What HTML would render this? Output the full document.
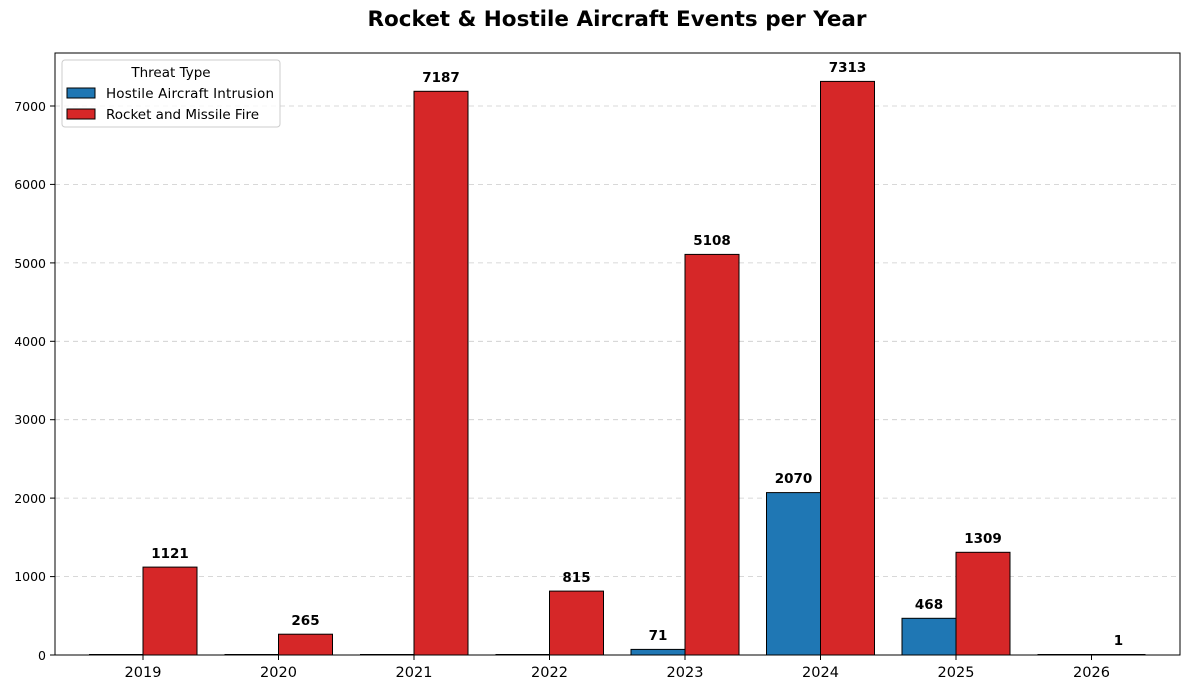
<!DOCTYPE html>
<html><head><meta charset="utf-8"><style>
html,body{margin:0;padding:0;background:#fff;}
svg{display:block;font-family:"DejaVu Sans","Liberation Sans",sans-serif;}
</style></head><body>
<svg width="1189" height="689" viewBox="0 0 1189 689" xmlns="http://www.w3.org/2000/svg">
<rect width="1189" height="689" fill="#fff"/>
<text x="617" y="26" text-anchor="middle" font-size="21.5" font-weight="bold">Rocket &amp; Hostile Aircraft Events per Year</text>
<g stroke="#ccc" stroke-dasharray="5,4" stroke-width="0.8">
<line x1="55" x2="1180" y1="576.6" y2="576.6"/>
<line x1="55" x2="1180" y1="498.1" y2="498.1"/>
<line x1="55" x2="1180" y1="419.7" y2="419.7"/>
<line x1="55" x2="1180" y1="341.3" y2="341.3"/>
<line x1="55" x2="1180" y1="262.9" y2="262.9"/>
<line x1="55" x2="1180" y1="184.4" y2="184.4"/>
<line x1="55" x2="1180" y1="106" y2="106"/>
</g>
<g stroke="#000" stroke-width="1">
<line x1="89" x2="143" y1="654.5" y2="654.5"/>
<line x1="224.5" x2="278.5" y1="654.5" y2="654.5"/>
<line x1="360" x2="414" y1="654.5" y2="654.5"/>
<line x1="495.5" x2="549.5" y1="654.5" y2="654.5"/>
<line x1="1037.5" x2="1145.5" y1="654.5" y2="654.5"/>
<rect x="631" y="649.4" width="54" height="5.6" fill="#1f77b4"/>
<rect x="766.5" y="492.6" width="54" height="162.4" fill="#1f77b4"/>
<rect x="902" y="618.3" width="54" height="36.7" fill="#1f77b4"/>
<rect x="143" y="567.1" width="54" height="87.9" fill="#d62728"/>
<rect x="278.5" y="634.2" width="54" height="20.8" fill="#d62728"/>
<rect x="414" y="91.3" width="54" height="563.7" fill="#d62728"/>
<rect x="549.5" y="591.1" width="54" height="63.9" fill="#d62728"/>
<rect x="685" y="254.4" width="54" height="400.6" fill="#d62728"/>
<rect x="820.5" y="81.4" width="54" height="573.6" fill="#d62728"/>
<rect x="956" y="552.3" width="54" height="102.7" fill="#d62728"/>
</g>
<g font-size="13.5" font-weight="bold" text-anchor="middle">
<text x="170" y="558">1121</text>
<text x="305.5" y="625">265</text>
<text x="441" y="82">7187</text>
<text x="576.5" y="582">815</text>
<text x="658" y="640">71</text>
<text x="712" y="245">5108</text>
<text x="793.5" y="483">2070</text>
<text x="847.5" y="72">7313</text>
<text x="929" y="609">468</text>
<text x="983" y="543">1309</text>
<text x="1118.5" y="645">1</text>
</g>
<rect x="55" y="53" width="1125" height="602" fill="none" stroke="#000" stroke-width="1"/>
<g font-size="12.5" text-anchor="end">
<text x="46" y="660">0</text>
<text x="46" y="581">1000</text>
<text x="46" y="503">2000</text>
<text x="46" y="424">3000</text>
<text x="46" y="346">4000</text>
<text x="46" y="268">5000</text>
<text x="46" y="189">6000</text>
<text x="46" y="111">7000</text>
</g>
<g stroke="#000"><line x1="50" x2="55" y1="655" y2="655"/><line x1="50" x2="55" y1="576.6" y2="576.6"/><line x1="50" x2="55" y1="498.1" y2="498.1"/><line x1="50" x2="55" y1="419.7" y2="419.7"/><line x1="50" x2="55" y1="341.3" y2="341.3"/><line x1="50" x2="55" y1="262.9" y2="262.9"/><line x1="50" x2="55" y1="184.4" y2="184.4"/><line x1="50" x2="55" y1="106" y2="106"/>
<line x1="143" x2="143" y1="655" y2="660"/><line x1="278.5" x2="278.5" y1="655" y2="660"/><line x1="414" x2="414" y1="655" y2="660"/><line x1="549.5" x2="549.5" y1="655" y2="660"/><line x1="685" x2="685" y1="655" y2="660"/><line x1="820.5" x2="820.5" y1="655" y2="660"/><line x1="956" x2="956" y1="655" y2="660"/><line x1="1091.5" x2="1091.5" y1="655" y2="660"/></g>
<g font-size="14.5" text-anchor="middle">
<text x="143" y="677">2019</text><text x="278.5" y="677">2020</text><text x="414" y="677">2021</text><text x="549.5" y="677">2022</text><text x="685" y="677">2023</text><text x="820.5" y="677">2024</text><text x="956" y="677">2025</text><text x="1091.5" y="677">2026</text>
</g>
<rect x="62" y="60" width="218" height="67" rx="3" fill="#fff" fill-opacity="0.8" stroke="#ccc"/>
<text x="171" y="77" text-anchor="middle" font-size="13.5">Threat Type</text>
<rect x="67" y="88" width="28" height="10" fill="#1f77b4" stroke="#000"/>
<text x="106" y="98" font-size="13.5" textLength="168">Hostile Aircraft Intrusion</text>
<rect x="67" y="109" width="28" height="10" fill="#d62728" stroke="#000"/>
<text x="106" y="119" font-size="13.5">Rocket and Missile Fire</text>
</svg>
</body></html>
